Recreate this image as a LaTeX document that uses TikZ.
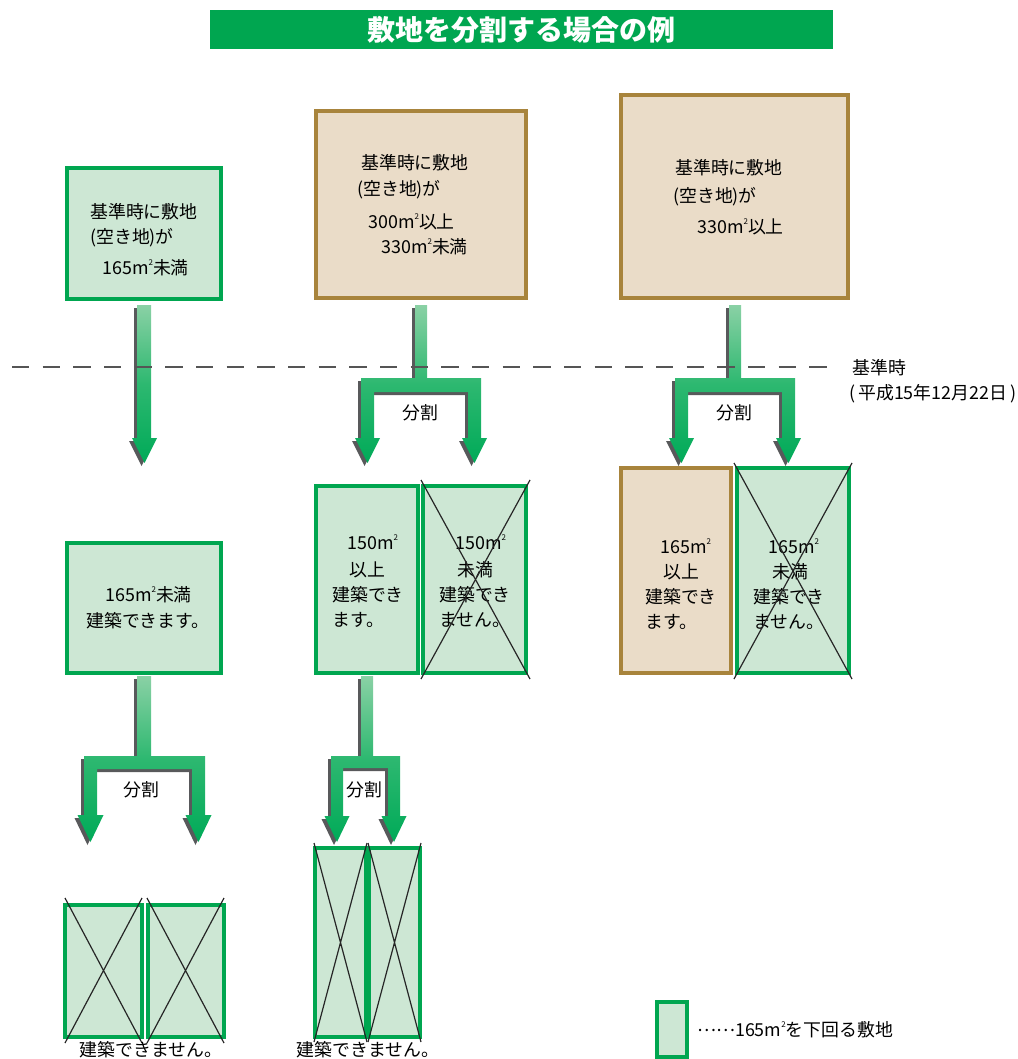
\documentclass[tikz,border=0pt]{standalone}
\usepackage{fontspec}
\newfontfamily\jp{Noto Sans CJK JP}
\definecolor{gborder}{HTML}{00A650}
\definecolor{gfill}{HTML}{CDE7D4}
\definecolor{tborder}{HTML}{A8843C}
\definecolor{tfill}{HTML}{EADCC8}
\definecolor{titlebg}{HTML}{00A650}
\definecolor{alight}{HTML}{8AD1A5}
\definecolor{amid}{HTML}{2DB870}
\definecolor{adark}{HTML}{00AA58}
\definecolor{ashadow}{HTML}{58595B}
\definecolor{dashc}{HTML}{555555}
\newcommand{\sqm}{m\raisebox{0.5em}{\fontsize{6pt}{6pt}\selectfont 2}}
\newcommand{\blockarrow}[1]{\fill[ashadow,shift={(-3,3)}] #1; \shade[top color=alight,bottom color=adark,middle color=amid] #1;}
\begin{document}
\begin{tikzpicture}[x=0.75pt,y=-0.75pt,
  txt/.style={font=\jp\fontsize{13.4pt}{15pt}\selectfont, inner sep=0pt, anchor=west},
  ctxt/.style={txt, anchor=center},
  gbox/.style={draw=gborder, fill=gfill, line width=2.6pt},
  tbox/.style={draw=tborder, fill=tfill, line width=2.6pt},
  xline/.style={draw=black!85, line width=0.9pt}]
\useasboundingbox (0,0) rectangle (1017,1059);

% title
\fill[titlebg] (210,10) rectangle (833,49);
\node[font=\jp\bfseries\fontsize{21pt}{24pt}\selectfont, text=white, inner sep=0pt] (title) at (521,30) {敷地を分割する場合の例};

% top row boxes
\draw[gbox] (67,168) rectangle (221,299);
\node[txt] (a1) at (90,212) {基準時に敷地};
\node[txt] (a2) at (90,238) {(空き地)が};
\node[txt] (a3) at (102,268) {165\sqm 未満};

\draw[tbox] (316,111) rectangle (526,298);
\node[txt] (b1) at (361,163) {基準時に敷地};
\node[txt] (b2) at (357,190) {(空き地)が};
\node[txt] (b3) at (368,222) {300\sqm 以上};
\node[txt] (b4) at (381,247) {330\sqm 未満};

\draw[tbox] (621,95) rectangle (848,298);
\node[txt] (c1) at (675,168) {基準時に敷地};
\node[txt] (c2) at (673,197) {(空き地)が};
\node[txt] (c3) at (697,227) {330\sqm 以上};

% arrows top
\blockarrow{(137,305) -- (151,305) -- (151,438) -- (157,438) -- (144.5,463) -- (132,438) -- (137,438) -- cycle}
\blockarrow{(415,305) -- (427,305) -- (427,378) -- (481,378) -- (481,438) -- (487,438) -- (474.5,463) -- (462,438) -- (468,438) -- (468,392) -- (374,392) -- (374,438) -- (380,438) -- (367.5,463) -- (355,438) -- (361,438) -- (361,378) -- (415,378) -- cycle}
\blockarrow{(729,305) -- (741,305) -- (741,378) -- (795,378) -- (795,438) -- (801,438) -- (788.5,463) -- (776,438) -- (782,438) -- (782,392) -- (688,392) -- (688,438) -- (694,438) -- (681.5,463) -- (669,438) -- (675,438) -- (675,378) -- (729,378) -- cycle}
\node[ctxt] (s1) at (420,413) {分割};
\node[ctxt] (s2) at (734,413) {分割};

% dashed line
\draw[dashc, line width=1.1pt, dash pattern=on 13 off 10] (12,367) -- (840,367);
\node[txt] (k1) at (852,368) {基準時};
\node[txt] (k2) at (849,394) {(\,平成15年12月22日\,)};

% middle row
\draw[gbox] (67,543) rectangle (221,673);
\node[txt] (d1) at (105,595) {165\sqm 未満};
\node[txt] (d2) at (86,621) {建築できます。};

\draw[gbox] (316,486) rectangle (418,673);
\node[txt] (e1) at (347,542) {150\sqm};
\node[txt] (e2) at (349,570) {以上};
\node[txt] (e3) at (332,595) {建築でき};
\node[txt] (e4) at (332,620) {ます。};

\draw[gbox] (423,486) rectangle (526,673);
\node[txt] (f1) at (455,542) {150\sqm};
\node[txt] (f2) at (457,570) {未満};
\node[txt] (f3) at (439,595) {建築でき};
\node[txt] (f4) at (439,620) {ません。};
\draw[xline] (421,480) -- (530,679) (530,480) -- (421,679);

\draw[tbox] (621,468) rectangle (731,673);
\node[txt] (g1) at (660,546) {165\sqm};
\node[txt] (g2) at (663,572) {以上};
\node[txt] (g3) at (645,597) {建築でき};
\node[txt] (g4) at (645,622) {ます。};

\draw[gbox] (737,468) rectangle (849,673);
\node[txt] (h1) at (768,546) {165\sqm};
\node[txt] (h2) at (772,572) {未満};
\node[txt] (h3) at (753,597) {建築でき};
\node[txt] (h4) at (753,622) {ません。};
\draw[xline] (734,463) -- (852,679) (852,463) -- (734,679);

% lower arrows
\blockarrow{(137,676) -- (151,676) -- (151,756) -- (205,756) -- (205,815) -- (211.5,815) -- (198.5,842) -- (185.5,815) -- (192,815) -- (192,769) -- (97,769) -- (97,815) -- (103.5,815) -- (90.5,842) -- (77.5,815) -- (84,815) -- (84,756) -- (137,756) -- cycle}
\blockarrow{(361,676) -- (373,676) -- (373,756) -- (400,756) -- (400,816) -- (406.5,816) -- (394,842) -- (381.5,816) -- (388,816) -- (388,768) -- (343,768) -- (343,816) -- (349.5,816) -- (337,842) -- (324.5,816) -- (331,816) -- (331,756) -- (361,756) -- cycle}
\node[ctxt] (s3) at (141,790) {分割};
\node[ctxt] (s4) at (364,790) {分割};

% bottom row
\draw[gbox] (65,905) rectangle (142,1037);
\draw[gbox] (148,905) rectangle (224,1037);
\draw[xline] (65,898) -- (142,1043) (142,898) -- (65,1043);
\draw[xline] (147,898) -- (224,1043) (224,898) -- (147,1043);
\node[ctxt] (i1) at (151,1050) {建築できません。};

\draw[gbox] (315,848) rectangle (366,1037);
\draw[gbox] (369,848) rectangle (420,1037);
\draw[xline] (314,843) -- (367,1042) (367,843) -- (314,1042);
\draw[xline] (368,843) -- (421,1042) (421,843) -- (368,1042);
\node[ctxt] (j1) at (368,1050) {建築できません。};

% legend
\draw[gbox] (657,1002) rectangle (687,1057);
\node[txt] (l1) at (697,1030) {\raisebox{0.3em}{……}165\sqm を下回る敷地};
\end{tikzpicture}
\end{document}
